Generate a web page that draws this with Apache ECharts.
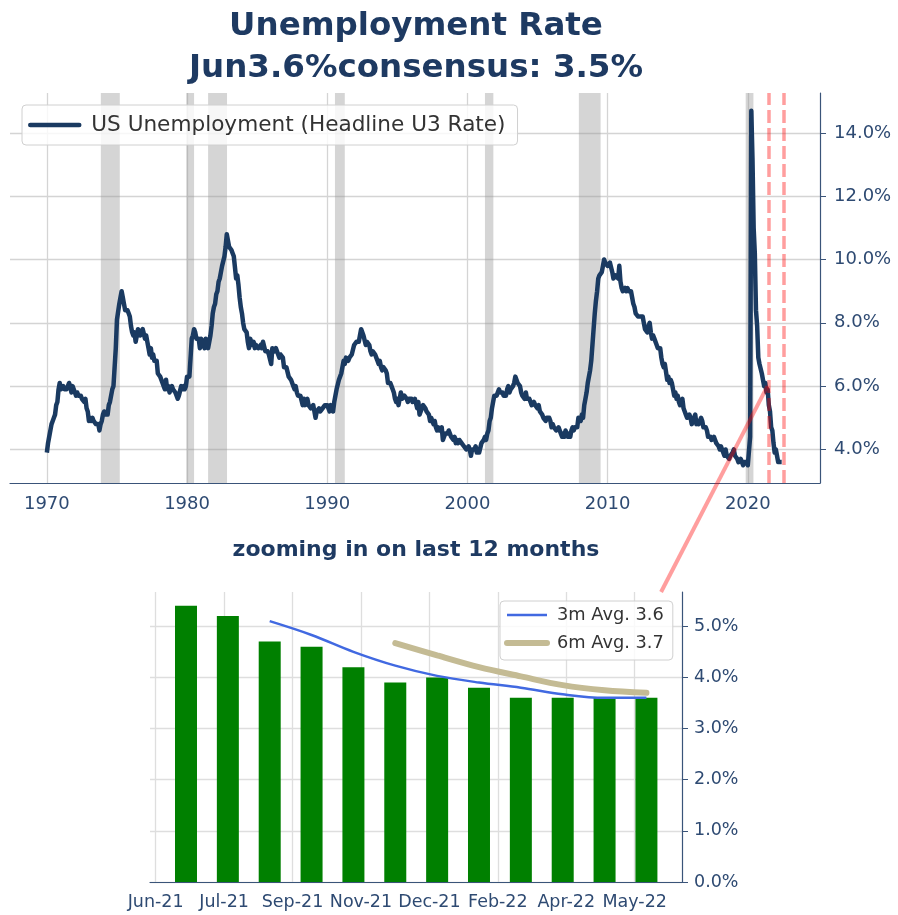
<!DOCTYPE html>
<html>
<head>
<meta charset="utf-8">
<script src="https://cdn.jsdelivr.net/npm/echarts@6/dist/echarts.min.js"></script>
<style>
  html, body { margin: 0; padding: 0; background: #fff; }
  #chart { width: 898px; height: 915px; }
</style>
</head>
<body>
<div id="chart"></div>
<script>
(function() {
  'use strict';

  // monthly U3 rate, Jan 1970 .. Jun 2022
  var startYear = 1970;
  var u3Rate = [
    3.9, 4.2, 4.4, 4.6, 4.8, 4.9, 5.0, 5.1, 5.4, 5.5, 5.9, 6.1,
    5.9, 5.9, 6.0, 5.9, 5.9, 5.9, 6.0, 6.1, 6.0, 5.8, 6.0, 6.0,
    5.8, 5.7, 5.8, 5.7, 5.7, 5.7, 5.6, 5.6, 5.5, 5.6, 5.3, 5.2,
    4.9, 5.0, 4.9, 5.0, 4.9, 4.9, 4.8, 4.8, 4.8, 4.6, 4.8, 4.9,
    5.1, 5.2, 5.1, 5.1, 5.1, 5.4, 5.5, 5.5, 5.9, 6.0, 6.6, 7.2,
    8.1, 8.1, 8.6, 8.8, 9.0, 8.8, 8.6, 8.4, 8.4, 8.4, 8.3, 8.2,
    7.9, 7.7, 7.6, 7.7, 7.4, 7.6, 7.8, 7.8, 7.6, 7.7, 7.8, 7.8,
    7.5, 7.6, 7.4, 7.2, 7.0, 7.2, 6.9, 7.0, 6.8, 6.8, 6.8, 6.4,
    6.4, 6.3, 6.3, 6.1, 6.0, 5.9, 6.2, 5.9, 6.0, 5.8, 5.9, 6.0,
    5.9, 5.9, 5.8, 5.8, 5.6, 5.7, 5.7, 6.0, 5.9, 6.0, 5.9, 6.0,
    6.3, 6.3, 6.3, 6.9, 7.5, 7.6, 7.8, 7.7, 7.5, 7.5, 7.5, 7.2,
    7.5, 7.4, 7.4, 7.2, 7.5, 7.5, 7.2, 7.4, 7.6, 7.9, 8.3, 8.5,
    8.6, 8.9, 9.0, 9.3, 9.4, 9.6, 9.8, 9.8, 10.1, 10.4, 10.8, 10.8,
    10.4, 10.4, 10.3, 10.2, 10.1, 10.1, 9.4, 9.5, 9.2, 8.8, 8.5, 8.3,
    8.0, 7.8, 7.8, 7.7, 7.4, 7.2, 7.5, 7.5, 7.3, 7.4, 7.2, 7.3,
    7.3, 7.2, 7.2, 7.3, 7.2, 7.4, 7.4, 7.1, 7.1, 7.1, 7.0, 7.0,
    6.7, 7.2, 7.2, 7.1, 7.2, 7.2, 7.0, 6.9, 7.0, 7.0, 6.9, 6.6,
    6.6, 6.6, 6.6, 6.3, 6.3, 6.2, 6.1, 6.0, 5.9, 6.0, 5.8, 5.7,
    5.7, 5.7, 5.7, 5.4, 5.6, 5.4, 5.4, 5.6, 5.4, 5.4, 5.3, 5.3,
    5.4, 5.2, 5.0, 5.2, 5.2, 5.3, 5.2, 5.2, 5.3, 5.3, 5.4, 5.4,
    5.4, 5.3, 5.2, 5.4, 5.4, 5.2, 5.5, 5.7, 5.9, 5.9, 6.2, 6.3,
    6.4, 6.6, 6.8, 6.7, 6.9, 6.9, 6.8, 6.9, 6.9, 7.0, 7.0, 7.3,
    7.3, 7.4, 7.4, 7.4, 7.6, 7.8, 7.7, 7.6, 7.6, 7.3, 7.4, 7.4,
    7.3, 7.1, 7.0, 7.1, 7.1, 7.0, 6.9, 6.8, 6.7, 6.8, 6.6, 6.5,
    6.6, 6.6, 6.5, 6.4, 6.1, 6.1, 6.1, 6.0, 5.9, 5.8, 5.6, 5.5,
    5.6, 5.4, 5.4, 5.8, 5.6, 5.6, 5.7, 5.7, 5.6, 5.5, 5.6, 5.6,
    5.6, 5.5, 5.5, 5.6, 5.6, 5.3, 5.5, 5.1, 5.2, 5.2, 5.4, 5.4,
    5.3, 5.2, 5.2, 5.1, 4.9, 5.0, 4.9, 4.8, 4.9, 4.7, 4.6, 4.7,
    4.6, 4.6, 4.7, 4.3, 4.4, 4.5, 4.5, 4.5, 4.6, 4.5, 4.4, 4.4,
    4.3, 4.4, 4.2, 4.3, 4.2, 4.3, 4.3, 4.2, 4.2, 4.1, 4.1, 4.0,
    4.0, 4.1, 4.0, 3.8, 4.0, 4.0, 4.0, 4.1, 3.9, 3.9, 3.9, 3.9,
    4.2, 4.2, 4.3, 4.4, 4.3, 4.5, 4.6, 4.9, 5.0, 5.3, 5.5, 5.7,
    5.7, 5.7, 5.7, 5.9, 5.8, 5.8, 5.8, 5.7, 5.7, 5.7, 5.9, 6.0,
    5.8, 5.9, 5.9, 6.0, 6.1, 6.3, 6.2, 6.1, 6.1, 6.0, 5.8, 5.7,
    5.7, 5.6, 5.8, 5.6, 5.6, 5.6, 5.5, 5.4, 5.4, 5.5, 5.4, 5.4,
    5.3, 5.4, 5.2, 5.2, 5.1, 5.0, 5.0, 4.9, 5.0, 5.0, 5.0, 4.9,
    4.7, 4.8, 4.7, 4.7, 4.6, 4.6, 4.7, 4.7, 4.5, 4.4, 4.5, 4.4,
    4.6, 4.5, 4.4, 4.5, 4.4, 4.6, 4.7, 4.6, 4.7, 4.7, 4.7, 5.0,
    5.0, 4.9, 5.1, 5.0, 5.4, 5.6, 5.8, 6.1, 6.1, 6.5, 6.8, 7.3,
    7.8, 8.3, 8.7, 9.0, 9.4, 9.5, 9.5, 9.6, 9.8, 10.0, 9.9, 9.9,
    9.8, 9.8, 9.9, 9.9, 9.6, 9.4, 9.4, 9.5, 9.5, 9.4, 9.8, 9.3,
    9.1, 9.0, 9.0, 9.1, 9.0, 9.1, 9.0, 9.0, 9.0, 8.8, 8.6, 8.5,
    8.3, 8.3, 8.2, 8.2, 8.2, 8.2, 8.2, 8.0, 7.8, 7.8, 7.7, 7.9,
    8.0, 7.7, 7.5, 7.6, 7.5, 7.5, 7.3, 7.2, 7.2, 7.2, 6.9, 6.7,
    6.6, 6.7, 6.7, 6.2, 6.3, 6.1, 6.2, 6.1, 5.9, 5.7, 5.8, 5.6,
    5.7, 5.5, 5.4, 5.4, 5.6, 5.3, 5.2, 5.1, 5.0, 5.0, 5.1, 5.0,
    4.8, 4.9, 5.0, 5.1, 4.8, 4.9, 4.8, 4.9, 5.0, 4.9, 4.7, 4.7,
    4.7, 4.6, 4.4, 4.4, 4.4, 4.3, 4.3, 4.4, 4.3, 4.2, 4.2, 4.1,
    4.0, 4.1, 4.0, 4.0, 3.8, 4.0, 3.8, 3.8, 3.7, 3.8, 3.8, 3.9,
    4.0, 3.8, 3.8, 3.7, 3.6, 3.6, 3.7, 3.6, 3.5, 3.6, 3.6, 3.6,
    3.5, 3.5, 4.4, 14.7, 13.2, 11.0, 10.2, 8.4, 7.9, 6.9, 6.7, 6.7,
    6.4, 6.2, 6.0, 6.1, 5.8, 5.9, 5.4, 5.2, 4.7, 4.6, 4.2, 3.9,
    4.0, 3.8, 3.6, 3.6, 3.6, 3.6
  ];

  // recession bands (decimal years)
  var recessions = [
    [1973.85, 1975.2], [1979.95, 1980.5], [1981.5, 1982.85], [1990.55, 1991.25],
    [2001.25, 2001.85], [2007.95, 2009.5], [2019.85, 2020.4]
  ];
  var windowLines = [2021.48, 2022.55];
  var yearTicks = [1970, 1980, 1990, 2000, 2010, 2020];
  var rateTicks = [4, 6, 8, 10, 12, 14];

  // last 12 months
  var monthLabels = ['Jun-21', 'Jul-21', 'Sep-21', 'Nov-21', 'Dec-21', 'Feb-22', 'Apr-22', 'May-22'];
  var monthTickPos = [-0.725, 0.91, 2.545, 4.18, 5.815, 7.45, 9.085, 10.72];
  var lastYear = [5.4, 5.2, 4.7, 4.6, 4.2, 3.9, 4.0, 3.8, 3.6, 3.6, 3.6, 3.6];
  var avg3m = [null, null, 5.1, 4.83, 4.5, 4.23, 4.03, 3.9, 3.8, 3.67, 3.6, 3.6];
  var avg6m = [null, null, null, null, null, 4.67, 4.43, 4.2, 4.02, 3.85, 3.75, 3.7];
  var pctTicks = [0, 1, 2, 3, 4, 5];

  var navy = '#1a3a61';
  var axisCol = '#3a5479';
  var tickText = '#2e4a72';
  var blue = '#4169e1';
  var tan = '#c4bb94';
  var font = 'DejaVu Sans';
  var noSymbol = { color: 'rgba(0,0,0,0)', borderColor: 'rgba(0,0,0,0)', borderWidth: 0, opacity: 0 };

  function pairs(arr) {
    var out = [];
    arr.forEach(function(v, i) { if (v != null) out.push([i, v]); });
    return out;
  }

  var u3Data = u3Rate.map(function(v, i) { return [startYear + i / 12, v]; });

  var chart = echarts.init(document.getElementById('chart'));

  var option = {
    animation: false,
    backgroundColor: '#fff',
    title: [{
      text: 'Unemployment Rate\nJun3.6%consensus: 3.5%',
      left: 411, top: 0, textAlign: 'center',
      textStyle: { fontFamily: font, fontSize: 32.5, fontWeight: 'bold', color: '#1e3a62', lineHeight: 42.5 }
    }, {
      text: 'zooming in on last 12 months',
      left: 411, top: 533, textAlign: 'center',
      textStyle: { fontFamily: font, fontSize: 22, fontWeight: 'bold', color: '#1e3a62', lineHeight: 25 }
    }],
    legend: [{
      data: [{ name: 'US Unemployment (Headline U3 Rate)', lineStyle: { width: 4.5, cap: 'round' } }],
      left: 22, top: 105,
      padding: [9, 12, 9, 6],
      itemWidth: 49, itemHeight: 14,
      itemStyle: noSymbol,
      backgroundColor: 'rgba(255,255,255,0.8)',
      borderColor: '#d0d0d0', borderWidth: 1, borderRadius: 4,
      selectedMode: false,
      textStyle: { fontFamily: font, fontSize: 21.6, color: '#333', padding: [0, 0, 0, 7] }
    }, {
      data: [
        { name: '3m Avg. 3.6', lineStyle: { width: 2.5 } },
        { name: '6m Avg. 3.7', lineStyle: { width: 6, cap: 'round' } }
      ],
      left: 500, top: 601, orient: 'vertical',
      padding: [5, 9, 8, 4],
      itemWidth: 40, itemHeight: 14, itemGap: 10,
      itemStyle: noSymbol,
      backgroundColor: 'rgba(255,255,255,0.8)',
      borderColor: '#d0d0d0', borderWidth: 1, borderRadius: 4,
      selectedMode: false,
      textStyle: { fontFamily: font, fontSize: 17.8, color: '#333', padding: [0, 0, 0, 5] }
    }],
    grid: [
      { left: 10, right: 78, top: 93, height: 390 },
      { left: 150, right: 216, top: 592, height: 290 }
    ],
    xAxis: [{
      type: 'value', gridIndex: 0, min: 1967.37, max: 2025.15,
      axisLine: { show: true, onZero: false, lineStyle: { color: axisCol, width: 1.2 } },
      axisTick: { show: false, customValues: yearTicks },
      axisLabel: { customValues: yearTicks, margin: 12, color: tickText, fontFamily: font, fontSize: 18,
        formatter: function(v) { return String(v); } },
      splitLine: { show: true, lineStyle: { color: '#d4d4d4', width: 1.3 } }
    }, {
      type: 'value', gridIndex: 1, min: -0.86, max: 11.85,
      axisLine: { show: true, onZero: false, lineStyle: { color: axisCol, width: 1.2 } },
      axisTick: { show: false, customValues: monthTickPos },
      axisLabel: { customValues: monthTickPos, margin: 11, color: tickText, fontFamily: font, fontSize: 17.5,
        formatter: function(v) {
          for (var k = 0; k < monthTickPos.length; k++) {
            if (Math.abs(monthTickPos[k] - v) < 1e-6) return monthLabels[k];
          }
          return '';
        } },
      splitLine: { show: true, lineStyle: { color: '#dedede', width: 1.3 } }
    }],
    yAxis: [{
      type: 'value', gridIndex: 0, position: 'right', min: 2.94, max: 15.26,
      axisLine: { show: true, onZero: false, lineStyle: { color: axisCol, width: 1.2 } },
      axisTick: { show: true, length: 6, customValues: rateTicks, lineStyle: { color: axisCol } },
      axisLabel: { customValues: rateTicks, margin: 14, color: tickText, fontFamily: font, fontSize: 18,
        formatter: function(v) { return v.toFixed(1) + '%'; } },
      splitLine: { show: true, lineStyle: { color: '#d4d4d4', width: 1.3 } }
    }, {
      type: 'value', gridIndex: 1, position: 'right', min: 0, max: 5.67,
      axisLine: { show: true, onZero: false, lineStyle: { color: axisCol, width: 1.2 } },
      axisTick: { show: true, length: 6, customValues: pctTicks, lineStyle: { color: axisCol } },
      axisLabel: { customValues: pctTicks, margin: 12, color: tickText, fontFamily: font, fontSize: 17.5,
        formatter: function(v) { return v.toFixed(1) + '%'; } },
      splitLine: { show: true, lineStyle: { color: '#dedede', width: 1.3 } }
    }],
    series: [{
      name: 'recessions',
      type: 'line', xAxisIndex: 0, yAxisIndex: 0, z: 1,
      data: [],
      markArea: {
        silent: true,
        itemStyle: { color: 'rgba(150,150,150,0.4)' },
        data: recessions.map(function(r) { return [{ xAxis: r[0] }, { xAxis: r[1] }]; })
      }
    }, {
      name: 'US Unemployment (Headline U3 Rate)',
      type: 'line', xAxisIndex: 0, yAxisIndex: 0, z: 3,
      data: u3Data,
      showSymbol: false, symbol: 'none',
      lineStyle: { color: navy, width: 4.5, join: 'round' },
      itemStyle: { color: navy },
      markLine: {
        silent: true, symbol: 'none', label: { show: false },
        lineStyle: { color: 'rgba(255,0,0,0.38)', width: 3.5, type: [13, 5] },
        data: windowLines.map(function(x) { return { xAxis: x }; })
      }
    }, {
      name: 'last 12 months',
      type: 'bar', xAxisIndex: 1, yAxisIndex: 1, z: 2,
      data: pairs(lastYear),
      barWidth: 22,
      itemStyle: { color: '#008000' }
    }, {
      name: '3m Avg. 3.6',
      type: 'line', xAxisIndex: 1, yAxisIndex: 1, z: 3,
      data: pairs(avg3m), smooth: 0.35,
      showSymbol: false, symbol: 'none',
      lineStyle: { color: blue, width: 2.5 },
      itemStyle: { color: blue }
    }, {
      name: '6m Avg. 3.7',
      type: 'line', xAxisIndex: 1, yAxisIndex: 1, z: 4,
      data: pairs(avg6m), smooth: 0.35,
      showSymbol: false, symbol: 'none',
      lineStyle: { color: tan, width: 6, cap: 'round' },
      itemStyle: { color: tan }
    }]
  };

  chart.setOption(option);

  // connector from the top chart window to the zoomed panel
  var p1 = chart.convertToPixel({ xAxisIndex: 0, yAxisIndex: 0 }, [2021.4, 6.0]);
  var p2 = chart.convertToPixel({ xAxisIndex: 1, yAxisIndex: 1 }, [11.35, 5.67]);
  chart.setOption({
    graphic: [{
      type: 'line', z: 100, silent: true,
      shape: { x1: p1[0], y1: p1[1], x2: p2[0], y2: p2[1] },
      style: { stroke: 'rgba(255,0,0,0.38)', lineWidth: 4 }
    }]
  });
})();
</script>
</body>
</html>
